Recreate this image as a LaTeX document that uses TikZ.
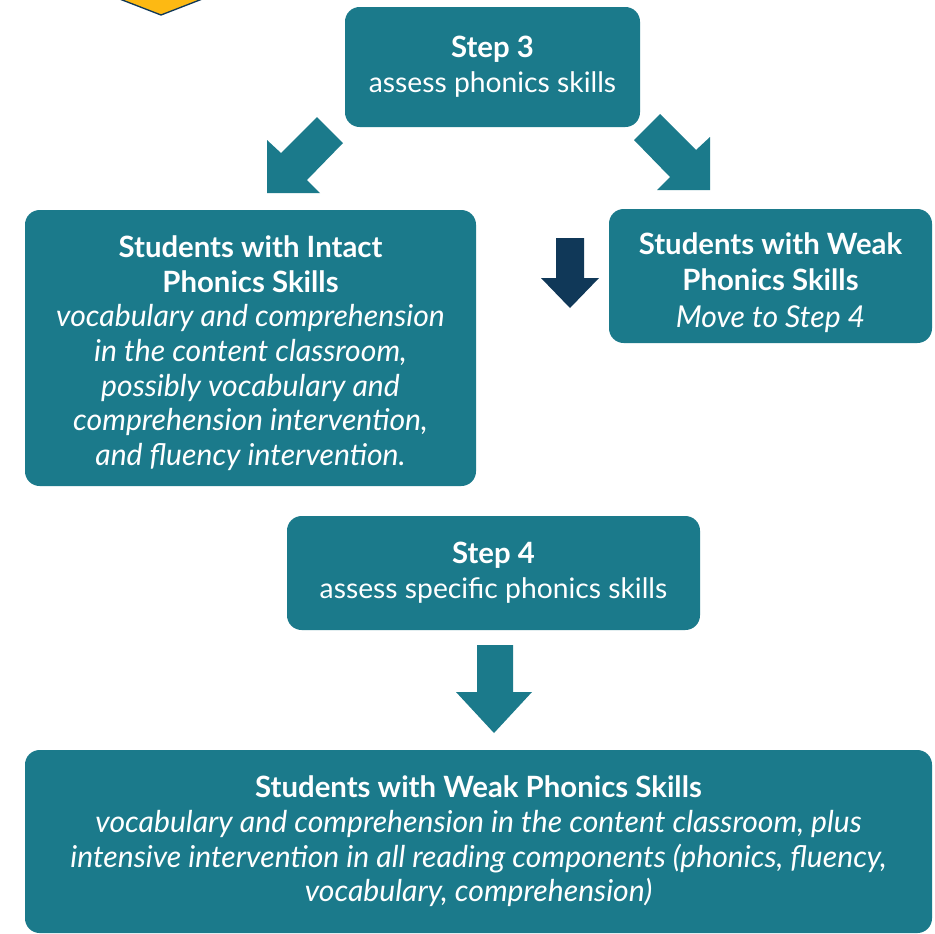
\documentclass[tikz,border=0pt]{standalone}
\usepackage{fontspec}
\setmainfont{Lato}
\definecolor{teal1}{RGB}{27,122,139}
\definecolor{navy1}{RGB}{16,56,88}
\definecolor{gold1}{RGB}{253,185,19}
\newcommand{\bltxt}[1]{{\fontsize{22}{26}\selectfont\bfseries #1}}
\newcommand{\ittxt}[1]{{\fontsize{22.6}{26}\selectfont\itshape #1}}
\begin{document}
\begin{tikzpicture}[x=0.75pt,y=-0.75pt,
  box/.style={fill=teal1, rounded corners=11pt, inner sep=0pt, text=white, align=center,
     font=\fontsize{21.2}{26}\selectfont},
  blockarrow/.style={fill=teal1, draw=none},
  darkarrow/.style={fill=navy1, draw=none}]
\useasboundingbox (0,0) rectangle (935,933);
\clip (0,0) rectangle (935,933);
\fill[white] (0,0) rectangle (935,933);
% yellow chevron at the top
\draw[fill=gold1, draw=navy1, line width=1pt] (112,-4) -- (161,15) -- (210,-4);
% boxes
\node[box, minimum width=221.25pt, minimum height=90pt] (s3) at (492.5,67)
  {\bltxt{Step 3}\\assess phonics skills};
\node[box, minimum width=338.25pt, minimum height=207pt] (intact) at (250.5,348)
  {\rule{0pt}{24pt}\bltxt{Students with Intact}\\\bltxt{Phonics Skills}\\\ittxt{vocabulary and comprehension}\\\ittxt{in the content classroom,}\\\ittxt{possibly vocabulary and}\\\ittxt{comprehension intervention,}\\\ittxt{and fluency intervention.}};
\node[box, minimum width=242.25pt, minimum height=100.5pt] (weak) at (770.5,276)
  {\rule{0pt}{26pt}\bltxt{Students with Weak}\\[1.5pt]\bltxt{Phonics Skills}\\[1.5pt]\ittxt{Move to Step 4}};
\node[box, minimum width=309.75pt, minimum height=85.5pt] (s4) at (493.5,573)
  {\bltxt{Step 4}\\assess specific phonics skills};
\node[box, minimum width=680.25pt, minimum height=137.25pt] (final) at (478.5,841.5)
  {\bltxt{Students with Weak Phonics Skills}\\\ittxt{vocabulary and comprehension in the content classroom, plus}\\\ittxt{intensive intervention in all reading components (phonics, fluency,}\\\ittxt{vocabulary, comprehension)}};
% block arrows
\fill[blockarrow] (267,193) -- (267,140) -- (281,153) -- (317,117) -- (343,143) -- (307,180) -- (320,193) -- cycle;
\fill[blockarrow] (710,190) -- (710,137) -- (696,150) -- (660,114) -- (634,140) -- (670,177) -- (657,190) -- cycle;
\fill[darkarrow] (556,238) -- (584,238) -- (584,278) -- (599,278) -- (570,308) -- (541,278) -- (556,278) -- cycle;
\fill[blockarrow] (477,645) -- (513,645) -- (513,692) -- (532,692) -- (494,733) -- (456,692) -- (477,692) -- cycle;
\end{tikzpicture}
\end{document}
